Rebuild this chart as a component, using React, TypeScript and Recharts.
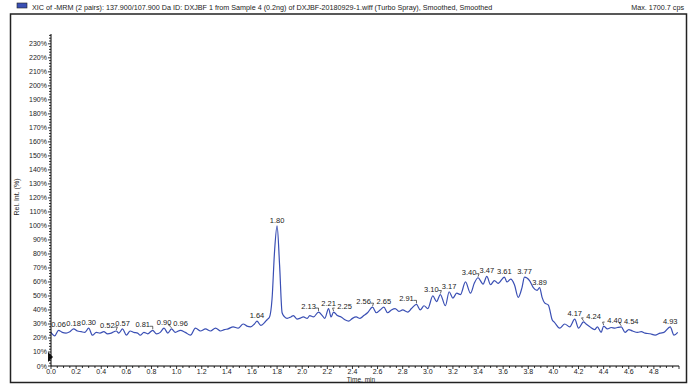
import React from 'react';
import { LineChart, Line, XAxis, YAxis, LabelList, ReferenceDot } from 'recharts';

// retention time (min) and relative intensity (%)
const TIMES = [
  0.0, 0.03, 0.06, 0.09, 0.12, 0.15, 0.18, 0.21, 0.24, 0.27, 0.3, 0.33, 0.36, 0.39,
  0.42, 0.45, 0.48, 0.52, 0.54, 0.57, 0.6, 0.63, 0.66, 0.69, 0.71, 0.74, 0.77, 0.81,
  0.84, 0.87, 0.9, 0.93, 0.96, 0.99, 1.03, 1.07, 1.11, 1.15, 1.19, 1.23, 1.27, 1.31,
  1.35, 1.38, 1.41, 1.45, 1.49, 1.53, 1.56, 1.59, 1.62, 1.64, 1.67, 1.7, 1.72, 1.74,
  1.76, 1.78, 1.8, 1.82, 1.84, 1.86, 1.88, 1.91, 1.93, 1.96, 1.98, 2.01, 2.04, 2.06,
  2.09, 2.13, 2.16, 2.18, 2.21, 2.23, 2.25, 2.28, 2.31, 2.34, 2.37, 2.4, 2.43, 2.46,
  2.49, 2.52, 2.56, 2.59, 2.62, 2.65, 2.68, 2.71, 2.74, 2.77, 2.8, 2.84, 2.87, 2.91,
  2.94, 2.97, 3.0, 3.04, 3.07, 3.1, 3.14, 3.17, 3.2, 3.23, 3.26, 3.3, 3.34, 3.37, 3.4,
  3.44, 3.47, 3.5, 3.53, 3.56, 3.61, 3.63, 3.66, 3.69, 3.72, 3.75, 3.77, 3.81, 3.84,
  3.87, 3.89, 3.91, 3.93, 3.96, 3.99, 4.01, 4.05, 4.09, 4.13, 4.17, 4.2, 4.24, 4.26,
  4.29, 4.33, 4.35, 4.38, 4.4, 4.43, 4.46, 4.49, 4.51, 4.54, 4.57, 4.6, 4.63, 4.67,
  4.7, 4.73, 4.77, 4.81, 4.85, 4.88, 4.93, 4.96, 4.99,
];

const INTENSITY = [
  24, 21.5, 25.5, 24, 23.5, 24.5, 26.5, 25, 24.5, 24, 27, 22, 24, 23.5,
  24.5, 23, 23.5, 25, 23.5, 26.5, 22, 25, 24, 23.5, 22, 24, 23, 25.5,
  23, 24, 27, 23.5, 26.5, 24, 25.5, 24, 22, 27, 25, 26.5, 25, 27,
  25, 26, 26.5, 28, 27, 30, 28.5, 28, 30, 32, 29, 31, 33, 35,
  48, 82, 100, 72, 38, 35, 34, 35, 36, 33.5, 34, 35, 34, 36,
  35, 38.5, 36, 34, 41, 35, 38.5, 36, 35, 33, 32, 34, 35, 34,
  36, 38, 42, 38, 40, 42, 38, 40, 41, 39, 40, 38.5, 41, 44,
  40, 43, 41, 50, 46, 51, 43, 53, 48.5, 52, 51, 60, 52, 59, 63,
  58.5, 64, 58, 61, 59, 63.5, 60, 62, 58, 49, 56, 63.5, 61, 56,
  54, 56, 49, 45, 43.5, 33, 31, 27, 30, 28, 33.5, 27, 31.5, 30,
  28, 26, 28, 24, 28.5, 26.5, 27.5, 27, 27.5, 28, 24, 26, 25, 24,
  24.5, 23.5, 23, 22, 23.5, 24, 28, 22, 24,
];

const PEAK_LABELS = [
  '0.06', '0.18', '0.30', '0.52', '0.57', '0.81', '0.90', '0.96', '1.64', '1.80',
  '2.13', '2.21', '2.25', '2.56', '2.65', '2.91', '3.10', '3.17', '3.40', '3.47',
  '3.61', '3.77', '3.89', '4.17', '4.24', '4.40', '4.54', '4.93',
];

// labels that the software pushed sideways (drawn with a leader)
const LABEL_NUDGE: Record<string, number> = {
  '0.52': -9,
  '0.81': -10,
  '0.96': 9,
  '2.13': -10,
  '2.25': 11,
  '2.56': -9,
  '2.91': -10,
  '3.10': -9,
  '3.40': -9,
  '4.24': 10,
  '4.40': 11,
  '4.54': 10,
};

const X_TICKS = Array.from({ length: 101 }, (_, i) => i / 20);
const Y_TICKS = Array.from({ length: 119 }, (_, i) => i * 2);

const FONT = '"Liberation Sans", Arial, sans-serif';
const TEXT = '#222';
const TRACE = '#3a4fb4';

const data = TIMES.map((t, i) => {
  const key = t.toFixed(2);
  return { t, v: INTENSITY[i], label: PEAK_LABELS.includes(key) ? key : '' };
});

const XTick = (props: any) => {
  const { x, y, payload } = props;
  const step = Math.round(payload.value * 20);
  const major = step % 4 === 0;
  return (
    <g>
      <line x1={x} x2={x} y1={y} y2={y + (major ? 3 : 2)} stroke='#000' strokeWidth={0.8} />
      {major && step < 100 && (
        <text x={x} y={y + 8} textAnchor='middle' fontSize={7} fill={TEXT} fontFamily={FONT}>
          {payload.value.toFixed(1)}
        </text>
      )}
    </g>
  );
};

const YTick = (props: any) => {
  const { x, y, payload } = props;
  const major = payload.value % 10 === 0;
  return (
    <g>
      <line x1={x - (major ? 3 : 2)} x2={x} y1={y} y2={y} stroke='#000' strokeWidth={0.8} />
      {major && (
        <text x={x - 4} y={y + 2.5} textAnchor='end' fontSize={7} fill={TEXT} fontFamily={FONT}>
          {payload.value}%
        </text>
      )}
    </g>
  );
};

const renderPeakLabel = (props: any) => {
  const { x, y, value } = props;
  if (!value) return null;
  const dx = LABEL_NUDGE[value] ?? 0;
  const lx = x + dx;
  const ly = y - 3;
  return (
    <g>
      {dx < 0 && (
        <polyline
          points={`${lx + 7},${ly - 1} ${lx + 10},${ly - 1} ${x},${y - 1}`}
          fill='none'
          stroke='#000'
          strokeWidth={0.6}
        />
      )}
      {dx > 0 && (
        <polyline
          points={`${lx - 10},${ly - 1} ${lx - 12},${ly - 1} ${x},${y - 1}`}
          fill='none'
          stroke='#000'
          strokeWidth={0.6}
        />
      )}
      <text x={lx} y={ly} textAnchor='middle' fontSize={7.5} fill={TEXT} fontFamily={FONT}>
        {value}
      </text>
    </g>
  );
};

const MarkerShape = (props: any) => {
  const { cx, cy } = props;
  return <polygon points={`${cx - 3},${cy - 5} ${cx + 2},${cy} ${cx - 3},${cy + 5}`} fill='#111' />;
};

export default function App() {
  return (
    <div style={{ position: 'relative', width: 691, height: 384, background: '#fff' }}>
      <style>{'body{margin:0}'}</style>
      <LineChart
        width={691}
        height={384}
        data={data}
        margin={{ top: 34, right: 12, bottom: 0, left: 0 }}
      >
        <XAxis
          dataKey='t'
          type='number'
          domain={[0, 5]}
          ticks={X_TICKS}
          interval={0}
          height={18}
          tickSize={0}
          tickMargin={0}
          tickLine={false}
          tick={<XTick />}
          axisLine={{ stroke: '#000', strokeWidth: 1 }}
        />
        <YAxis
          type='number'
          domain={[0, 237]}
          ticks={Y_TICKS}
          interval={0}
          width={51}
          tickSize={0}
          tickMargin={0}
          tickLine={false}
          tick={<YTick />}
          axisLine={{ stroke: '#000', strokeWidth: 1 }}
        />
        <ReferenceDot x={0} y={6.5} r={4} shape={<MarkerShape />} ifOverflow='visible' />
        <Line
          type='monotone'
          dataKey='v'
          stroke={TRACE}
          strokeWidth={1.2}
          dot={false}
          activeDot={false}
          isAnimationActive={false}
        >
          <LabelList dataKey='label' content={renderPeakLabel} />
        </Line>
      </LineChart>
      <svg
        width={691}
        height={384}
        style={{ position: 'absolute', left: 0, top: 0, pointerEvents: 'none' }}
        fontFamily={FONT}
      >
        <rect x={17} y={3} width={10} height={5} fill={TRACE} stroke='#222' strokeWidth={0.6} />
        <text x={32} y={10} fontSize={7.2} fill={TEXT}>
          XIC of -MRM (2 pairs): 137.900/107.900 Da ID: DXJBF 1 from Sample 4 (0.2ng) of
          DXJBF-20180929-1.wiff (Turbo Spray), Smoothed, Smoothed
        </text>
        <text x={684} y={10} fontSize={7.2} fill={TEXT} textAnchor='end'>
          Max. 1700.7 cps
        </text>
        <rect x={10.5} y={14} width={676} height={368.5} fill='none' stroke='#222' strokeWidth={1.5} />
        <text x={361} y={381.5} fontSize={6.5} fill={TEXT} textAnchor='middle'>
          Time, min
        </text>
        <text
          x={19}
          y={197}
          fontSize={7}
          fill={TEXT}
          textAnchor='middle'
          transform='rotate(-90 19 197)'
        >
          Rel. Int. (%)
        </text>
      </svg>
    </div>
  );
}
